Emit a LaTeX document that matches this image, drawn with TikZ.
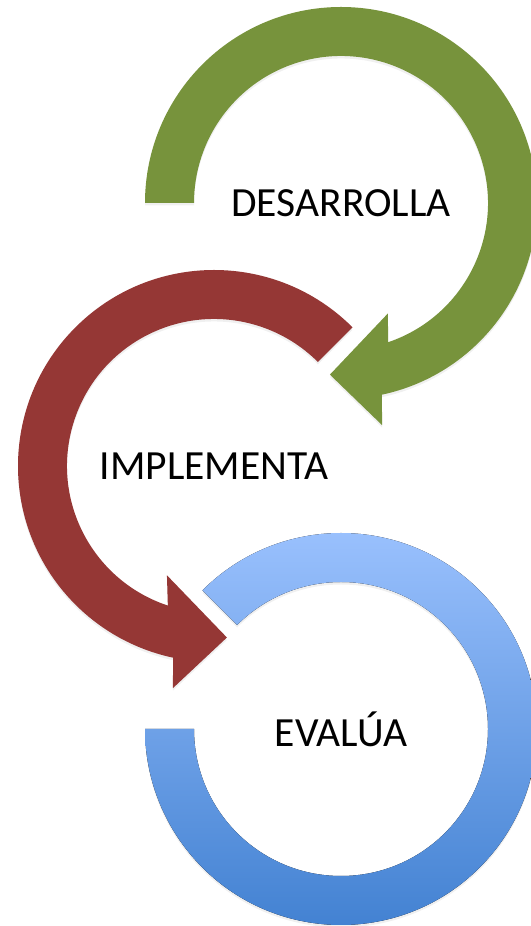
\documentclass[tikz,border=0pt]{standalone}
\usepackage{fontspec}
\setmainfont{Carlito}
\usetikzlibrary{shadows}
\definecolor{olivegreen}{HTML}{77933C}
\definecolor{brickred}{HTML}{953735}
\definecolor{lightblue}{HTML}{9DC3FF}
\definecolor{deepblue}{HTML}{3F7FD0}
\tikzset{
  ring/.style={draw=none, drop shadow={shadow xshift=0pt, shadow yshift=-2.5pt, opacity=.12}},
  label/.style={font=\fontsize{41.5}{48}\selectfont}
}

\begin{document}
\begin{tikzpicture}[x=1pt,y=1pt]
\useasboundingbox (0,0) rectangle (530,926);
\coordinate (gc) at (341,723);
\coordinate (rc) at (214,460);
\coordinate (bc) at (341,197);
% blue ring
\begin{scope}[shift={(bc)}]
\fill[ring, top color=lightblue, bottom color=deepblue]
  (135:147) -- (135:196) arc[start angle=135, end angle=-180, radius=196]
  -- (180:147) arc[start angle=-180, end angle=135, radius=147] -- cycle;
\end{scope}
% red arrow
\begin{scope}[shift={(rc)}]
\fill[ring, brickred]
  (45:147) -- (45:196) arc[start angle=45, end angle=258, radius=196]
  -- (259.5:226) -- (274.3:172) -- (246.7:119)
  -- (251.7:147) arc[start angle=251.7, end angle=45, radius=147] -- cycle;
\end{scope}
% green arrow
\begin{scope}[shift={(gc)}]
\fill[ring, olivegreen]
  (180:147) -- (180:196) arc[start angle=180, end angle=-78, radius=196]
  -- (-79.5:226) -- (-93.7:172) -- (-67:120)
  -- (-71.3:147) arc[start angle=-71.3, end angle=180, radius=147] -- cycle;
\end{scope}
\node[label] (desarrolla) at (gc) {DESARROLLA};
\node[label] (implementa) at (rc) {IMPLEMENTA};
\node[label] (evalua) at (bc) {EVALÚA};
\end{tikzpicture}
\end{document}
